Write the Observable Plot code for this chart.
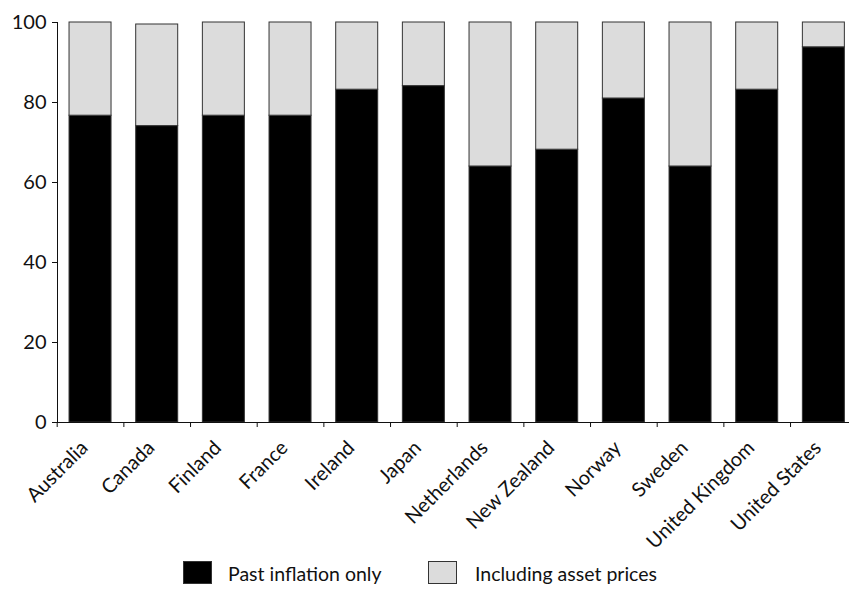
<!DOCTYPE html>
<html>
<head>
<meta charset="utf-8">
<script src="https://cdn.jsdelivr.net/npm/d3@7"></script>
<script src="https://cdn.jsdelivr.net/npm/@observablehq/plot@0.6"></script>
<style>
  html, body { margin: 0; padding: 0; background: #fff; }
  #wrap { width: 849px; font-family: Lato, "Open Sans", sans-serif; color: #111; }
  #chart svg { display: block; }
  #legend { position: relative; width: 849px; height: 40px; font-size: 19.5px; }
  #legend .sw { position: absolute; box-sizing: border-box; }
  #legend .lab { position: absolute; line-height: 1; white-space: nowrap; }
</style>
</head>
<body>
<div id="wrap">
  <div id="chart"></div>
  <div id="legend"></div>
</div>
<script>
const countries = ["Australia", "Canada", "Finland", "France", "Ireland", "Japan", "Netherlands", "New Zealand", "Norway", "Sweden", "United Kingdom", "United States"];
const pastInflation = [76.7, 74.1, 76.7, 76.7, 83.2, 84.1, 64.0, 68.2, 81.0, 64.0, 83.2, 93.8];
const assetPrices = [23.3, 25.4, 23.3, 23.3, 16.8, 15.9, 36.0, 31.8, 19.0, 36.0, 16.8, 6.2];
const seriesNames = ["Past inflation only", "Including asset prices"];
const seriesColors = ["#000000", "#dcdcdc"];
const yTicks = [0, 20, 40, 60, 80, 100];

const rows = [];
countries.forEach((c, i) => {
  rows.push({country: c, series: seriesNames[0], value: pastInflation[i]});
  rows.push({country: c, series: seriesNames[1], value: assetPrices[i]});
});

const xRange = [56.7, 856.7];
const halfStep = (xRange[1] - xRange[0]) / countries.length / 2;

const chart = Plot.plot({
  width: 849,
  height: 556,
  marginLeft: 57,
  marginRight: 0,
  marginTop: 22,
  marginBottom: 134,
  style: {fontFamily: "Lato, 'Open Sans', sans-serif", fontSize: "20px", color: "#111", background: "#fff"},
  x: {domain: countries, range: xRange, paddingInner: 0.37, paddingOuter: 0.185, round: false},
  y: {domain: [0, 100]},
  color: {domain: seriesNames, range: seriesColors},
  marks: [
    Plot.barY(rows, {x: "country", y: "value", fill: "series", order: seriesNames, stroke: "#333", strokeWidth: 1}),
    Plot.frame({anchor: "left", stroke: "#111"}),
    Plot.frame({anchor: "bottom", stroke: "#111"}),
    Plot.axisY({ticks: yTicks, tickSize: 5, tickPadding: 6, label: null, fontSize: 20}),
    Plot.axisX({tickSize: 5, fill: "none", dx: -halfStep, label: null}),
    Plot.axisX({tickSize: 0, tickPadding: 22, tickRotate: -45, dx: -6, label: null, fontSize: 20})
  ]
});
document.getElementById("chart").appendChild(chart);

const legend = document.getElementById("legend");
const items = [
  {sw: 183, tx: 228},
  {sw: 428, tx: 475}
];
seriesNames.forEach((name, i) => {
  const sw = document.createElement("div");
  sw.className = "sw";
  sw.style.left = items[i].sw + "px";
  sw.style.top = "5px";
  sw.style.width = "29px";
  sw.style.height = "23px";
  sw.style.background = seriesColors[i];
  sw.style.border = "1px solid #333";
  legend.appendChild(sw);
  const lab = document.createElement("span");
  lab.className = "lab";
  lab.style.left = items[i].tx + "px";
  lab.style.top = "8px";
  lab.textContent = name;
  legend.appendChild(lab);
});
</script>
</body>
</html>
